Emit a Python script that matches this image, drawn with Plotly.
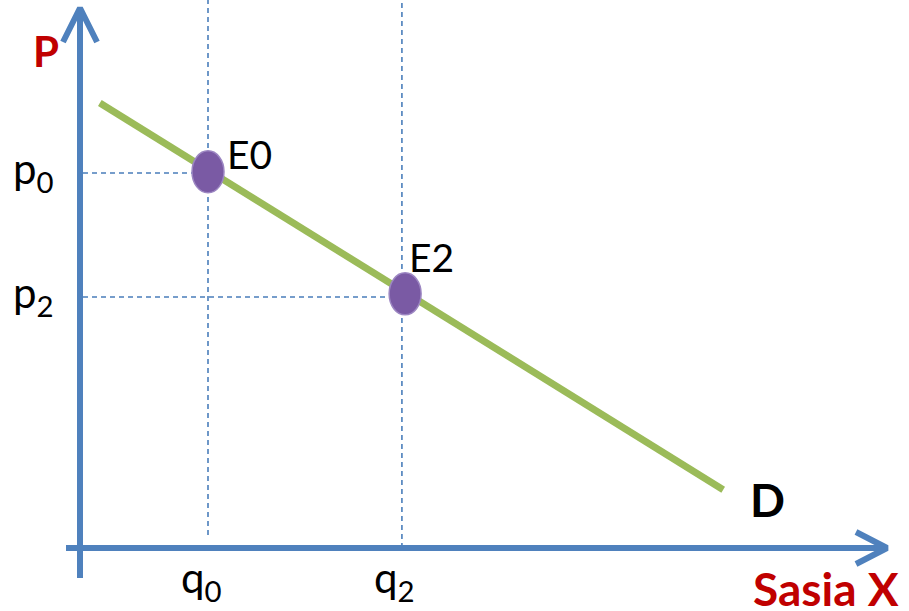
import plotly.graph_objects as go

# ---- data (economic units) ----
q_vals = [2.0, 5.03]            # q0, q2
p_vals = [5.99, 4.01]           # p0, p2
q_labels = ["q<sub>0</sub>", "q<sub>2</sub>"]
p_labels = ["p<sub>0</sub>", "p<sub>2</sub>"]
point_names = ["E0", "E2"]
point_q = [2.0, 5.08]
point_p = [6.01, 4.06]
demand_q = [0.31, 10.05]
demand_p = [7.11, 0.93]
demand_name = "D"
x_title = "Sasia X"
y_title = "P"

# ---- scale helpers (pixels per unit, origin in page pixels) ----
W, H = 909, 611
OX, OY = 80, 548
SX, SY = 64.0, 62.6
def dx(px):
    return px / SX
def dy(px):
    return px / SY

x_range = [-OX / SX, (W - OX) / SX]
y_range = [-(H - OY) / SY, OY / SY]

AX_COL = "#4F81BD"
RED = "#C00000"
FONT = "Lato"

fig = go.Figure()
shapes = []

# dashed guide lines
y_top = y_range[1]
for q, bottom in zip(q_vals, [dy(13), 0]):
    shapes.append(dict(type="line", xref="x", yref="y", x0=q, x1=q, y0=bottom, y1=y_top,
                       line=dict(color="#4A7EBB", width=1.6, dash="5px,4px"), layer="below"))
for q, p in zip(q_vals, p_vals):
    shapes.append(dict(type="line", xref="x", yref="y", x0=dx(3), x1=q, y0=p, y1=p,
                       line=dict(color="#4A7EBB", width=1.6, dash="5px,4px"), layer="below"))

# axes
y_ax_top = dy(540)
x_ax_end = dx(807)
shapes.append(dict(type="line", xref="x", yref="y", x0=0, x1=0, y0=-dy(30), y1=y_ax_top,
                   line=dict(color=AX_COL, width=6)))
shapes.append(dict(type="line", xref="x", yref="y", x0=-dx(14), x1=x_ax_end, y0=0, y1=0,
                   line=dict(color=AX_COL, width=6)))
fig.add_trace(go.Scatter(x=[-dx(17), 0, dx(17)], y=[y_ax_top - dy(34), y_ax_top, y_ax_top - dy(34)],
                         mode="lines", line=dict(color=AX_COL, width=6), hoverinfo="skip"))
fig.add_trace(go.Scatter(x=[x_ax_end - dx(31), x_ax_end, x_ax_end - dx(31)], y=[dy(16), 0, -dy(16)],
                         mode="lines", line=dict(color=AX_COL, width=6), hoverinfo="skip"))

# demand line
fig.add_trace(go.Scatter(x=demand_q, y=demand_p, mode="lines",
                         line=dict(color="#9BBB59", width=7), hoverinfo="skip"))

# equilibrium points (ellipses)
rx, ry = dx(16), dy(21)
for q, p in zip(point_q, point_p):
    shapes.append(dict(type="circle", xref="x", yref="y", x0=q - rx, x1=q + rx, y0=p - ry, y1=p + ry,
                       fillcolor="#7A5AA4", line=dict(color="#9C86C2", width=1.5), layer="above"))

ann = []
label_shift = [(17, 18), (2, 37)]
for name, q, p, (xs, ys) in zip(point_names, point_q, point_p, label_shift):
    ann.append(dict(x=q, y=p, xref="x", yref="y", text=name, showarrow=False,
                    xanchor="left", yanchor="middle", xshift=xs, yshift=ys,
                    font=dict(family=FONT, size=39, color="black")))
for lab, p in zip(p_labels, p_vals):
    ann.append(dict(x=0, y=p, xref="x", yref="y", text=lab, showarrow=False,
                    xanchor="right", yanchor="middle", xshift=-24, yshift=2,
                    font=dict(family=FONT, size=42, color="black")))
for lab, q in zip(q_labels, q_vals):
    ann.append(dict(x=q, y=0, xref="x", yref="y", text=lab, showarrow=False,
                    xanchor="center", yanchor="top", xshift=-7, yshift=-2,
                    font=dict(family=FONT, size=42, color="black")))
ann.append(dict(x=0, y=y_ax_top, xref="x", yref="y", text="<b>" + y_title + "</b>", showarrow=False,
                xanchor="right", yanchor="top", xshift=-19, yshift=-16,
                font=dict(family=FONT, size=42, color=RED)))
ann.append(dict(x=demand_q[1], y=demand_p[1], xref="x", yref="y", text="<b>" + demand_name + "</b>",
                showarrow=False, xanchor="left", yanchor="middle", xshift=25, yshift=-10,
                font=dict(family=FONT, size=46, color="black")))
ann.append(dict(x=x_ax_end, y=0, xref="x", yref="y", text="<b>" + x_title + "</b>", showarrow=False,
                xanchor="right", yanchor="middle", xshift=14, yshift=-40,
                font=dict(family=FONT, size=46, color=RED)))

fig.update_layout(
    width=W, height=H, autosize=False,
    margin=dict(l=0, r=0, t=0, b=0),
    paper_bgcolor="white", plot_bgcolor="white",
    showlegend=False,
    xaxis=dict(range=x_range, visible=False, fixedrange=True),
    yaxis=dict(range=y_range, visible=False, fixedrange=True),
    shapes=shapes, annotations=ann,
)

fig.write_html("out.html", post_script="document.body.style.margin='0';",
               config={"displayModeBar": False})
